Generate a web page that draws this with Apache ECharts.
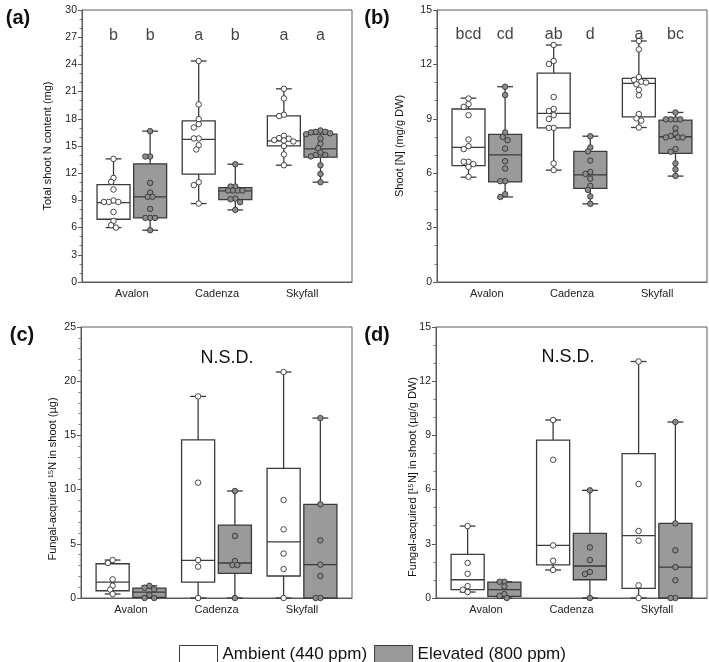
<!DOCTYPE html>
<html><head><meta charset="utf-8">
<script src="https://cdn.jsdelivr.net/npm/echarts@6/dist/echarts.min.js"></script>
<style>html,body{margin:0;padding:0;background:#fff}#c{width:709px;height:662px}</style>
</head><body><div id="c"></div>
<script>
const categories = ['Avalon', 'Cadenza', 'Skyfall'];
const seriesNames = ['Ambient (440 ppm)', 'Elevated (800 ppm)'];

// box stats per cultivar: [min, Q1, median, Q3, max]
// (a) Total shoot N content (mg)
const aAmbientBox = [[6.0, 6.92, 8.76, 10.75, 13.58], [8.65, 11.89, 15.72, 17.78, 24.37], [12.88, 15.02, 15.57, 18.33, 21.31]];
const aElevatedBox = [[5.71, 7.07, 9.39, 13.03, 16.64], [7.95, 9.09, 10.05, 10.42, 12.99], [11.01, 13.77, 14.69, 16.31, 16.72]];
const aAmbientPts = [
  [13.58, 11.48, 11.04, 10.2, 8.99, 8.83, 8.83, 8.83, 7.73, 6.74, 6.26, 6.0],
  [24.37, 19.59, 17.96, 17.41, 17.04, 15.83, 15.83, 15.09, 14.62, 11.01, 10.68, 8.65],
  [21.31, 20.25, 18.44, 18.3, 16.12, 15.87, 15.8, 15.65, 15.6, 15.5, 15.0, 14.07, 12.88]];
const aElevatedPts = [
  [16.64, 13.84, 13.84, 10.93, 9.87, 9.39, 9.39, 8.06, 7.07, 7.07, 7.07, 5.71],
  [12.99, 10.53, 10.53, 10.09, 10.09, 10.09, 10.09, 9.2, 9.13, 8.8, 7.95],
  [16.72, 16.56, 16.56, 16.5, 16.4, 16.3, 15.83, 15.24, 14.76, 14.28, 14.02, 14.02, 13.85, 12.88, 11.92, 11.01]];
const aLetters = ['b', 'b', 'a', 'b', 'a', 'a'];

// (b) Shoot [N] (mg/g DW)
const bAmbientBox = [[5.78, 6.42, 7.42, 9.54, 10.14], [6.17, 8.5, 9.3, 11.52, 13.07], [8.52, 9.11, 10.95, 11.23, 13.29]];
const bElevatedBox = [[4.69, 5.52, 7.01, 8.14, 10.77], [4.31, 5.16, 5.91, 7.2, 8.04], [5.84, 7.09, 8.01, 8.93, 9.35]];
const bAmbientPts = [
  [10.12, 9.81, 9.66, 9.2, 7.86, 7.49, 7.33, 6.63, 6.63, 6.5, 6.35, 5.8],
  [13.07, 12.19, 12.02, 10.2, 9.54, 9.43, 9.2, 8.99, 8.5, 8.5, 6.54, 6.17],
  [13.29, 12.83, 11.3, 11.15, 11.05, 11.0, 10.9, 10.6, 10.3, 9.26, 9.02, 8.9, 8.52]];
const bElevatedPts = [
  [10.77, 10.31, 8.25, 8.0, 7.82, 7.36, 6.66, 6.26, 5.56, 5.56, 4.84, 4.69],
  [8.04, 7.42, 7.2, 6.7, 6.07, 5.96, 5.7, 5.3, 5.08, 4.72, 4.31],
  [9.35, 8.97, 8.97, 8.97, 8.97, 8.47, 8.19, 8.05, 7.97, 7.97, 7.97, 7.33, 7.18, 6.54, 6.21, 5.85]];
const bLetters = ['bcd', 'cd', 'ab', 'd', 'a', 'bc'];

// (c) Fungal-acquired 15N in shoot (µg)
const cAmbientBox = [[0.37, 0.67, 1.47, 3.16, 3.5], [0, 1.47, 3.47, 14.58, 18.6], [0, 2.03, 5.17, 11.96, 20.85]];
const cElevatedBox = [[0, 0.05, 0.55, 0.92, 1.13], [0, 2.27, 3.23, 6.73, 9.87], [0, 0, 3.07, 8.64, 16.6]];
const cAmbientPts = [[3.5, 3.23, 1.72, 1.13, 0.77, 0.37], [18.6, 10.64, 3.5, 2.89, 0], [20.85, 9.04, 6.33, 4.09, 2.67, 0]];
const cElevatedPts = [[1.13, 0.95, 0.8, 0.27, 0, 0], [9.87, 5.72, 3.41, 3.04, 3.04, 0], [16.6, 8.64, 5.32, 3.07, 2.03, 0, 0]];

// (d) Fungal-acquired [15N] in shoot (µg/g DW)
const dAmbientBox = [[0.33, 0.46, 1.01, 2.41, 3.98], [1.55, 1.83, 2.91, 8.74, 9.85], [0, 0.53, 3.45, 7.99, 13.09]];
const dElevatedBox = [[0, 0.09, 0.46, 0.88, 0.9], [0, 1.01, 1.77, 3.58, 5.96], [0, 0, 1.71, 4.13, 9.74]];
const dAmbientPts = [[3.98, 1.94, 1.34, 0.66, 0.46, 0.33], [9.85, 7.65, 2.91, 2.06, 1.55], [13.09, 6.31, 3.71, 3.17, 0.7, 0]];
const dElevatedPts = [[0.9, 0.9, 0.64, 0.22, 0.12, 0], [5.96, 2.8, 2.1, 1.44, 1.33, 0], [9.74, 4.13, 2.64, 1.71, 0.98, 0, 0]];

const yTicksA = {max: 30, interval: 3, minor: 3};
const yTicksB = {max: 15, interval: 3, minor: 3};
const yTicksC = {max: 25, interval: 5, minor: 5};
const yTicksD = {max: 15, interval: 3, minor: 3};

// ---------- styling / layout ----------
const FONT = "'Liberation Sans', Arial, Helvetica, sans-serif";
const X_MIN = -0.585, X_MAX = 2.585;
const GROUP_OFF = 0.215, BOX_W = 0.387, CAP_W = 0.185;
const LINE = '#3a3a3a';
const FILLS = ['#ffffff', '#9a9a9a'];
const PT_FILLS = ['#ffffff', '#8c8c8c'];

const panels = [
  {grid: {left: 82, top: 10, width: 270, height: 272}, y: yTicksA, boxes: [aAmbientBox, aElevatedBox], pts: [aAmbientPts, aElevatedPts], letters: aLetters, letterY: 27.2},
  {grid: {left: 437, top: 10, width: 270, height: 272}, y: yTicksB, boxes: [bAmbientBox, bElevatedBox], pts: [bAmbientPts, bElevatedPts], letters: bLetters, letterY: 13.62},
  {grid: {left: 81, top: 327, width: 271, height: 271}, y: yTicksC, boxes: [cAmbientBox, cElevatedBox], pts: [cAmbientPts, cElevatedPts]},
  {grid: {left: 436, top: 327, width: 271, height: 271}, y: yTicksD, boxes: [dAmbientBox, dElevatedBox], pts: [dAmbientPts, dElevatedPts]}
];

function swarmOffsets(values, pxPerY, d) {
  const placed = [];
  const idx = values.map((_, i) => i).sort((a, b) => values[b] - values[a]);
  const res = new Array(values.length).fill(0);
  const steps = [0];
  for (let k = 1; k <= 14; k++) steps.push(-k * d / 2, k * d / 2);
  idx.forEach(i => {
    const y = values[i] * pxPerY;
    for (const dx of steps) {
      if (placed.every(p => Math.hypot(p.x - dx, p.y - y) >= d * 0.95)) {
        res[i] = dx; placed.push({x: dx, y}); break;
      }
    }
  });
  return res;
}

function boxRenderer(offset, fill) {
  return function (params, api) {
    const x = api.value(0) + offset;
    const p = [1, 2, 3, 4, 5].map(k => api.coord([x, api.value(k)]));
    const cx = p[0][0];
    const hw = api.size([BOX_W, 0])[0] / 2;
    const ch = api.size([CAP_W, 0])[0] / 2;
    const st = {stroke: LINE, lineWidth: 1.3};
    return {type: 'group', children: [
      {type: 'line', shape: {x1: cx, y1: p[1][1], x2: cx, y2: p[0][1]}, style: st},
      {type: 'line', shape: {x1: cx, y1: p[3][1], x2: cx, y2: p[4][1]}, style: st},
      {type: 'line', shape: {x1: cx - ch, y1: p[0][1], x2: cx + ch, y2: p[0][1]}, style: st},
      {type: 'line', shape: {x1: cx - ch, y1: p[4][1], x2: cx + ch, y2: p[4][1]}, style: st},
      {type: 'rect', shape: {x: cx - hw, y: p[3][1], width: 2 * hw, height: p[1][1] - p[3][1]}, style: {fill: fill, stroke: LINE, lineWidth: 1.3}},
      {type: 'line', shape: {x1: cx - hw, y1: p[2][1], x2: cx + hw, y2: p[2][1]}, style: st}
    ]};
  };
}

const grid = [], xAxis = [], yAxis = [], series = [];
panels.forEach((pn, gi) => {
  grid.push(Object.assign({show: true, borderColor: '#5a5a5a', borderWidth: 1, backgroundColor: 'transparent'}, pn.grid));
  xAxis.push({
    type: 'value', gridIndex: gi, min: X_MIN, max: X_MAX,
    axisLine: {show: true, onZero: false, lineStyle: {color: '#5a5a5a', width: 1}},
    axisTick: {show: false}, splitLine: {show: false},
    axisLabel: {customValues: [0, 1, 2], formatter: v => categories[Math.round(v)] || '', fontSize: 11, color: '#222', fontFamily: FONT, margin: 6}
  });
  yAxis.push({
    type: 'value', gridIndex: gi, min: 0, max: pn.y.max, interval: pn.y.interval,
    axisLine: {show: true, onZero: false, lineStyle: {color: '#5a5a5a', width: 1}},
    axisTick: {show: true, length: 4, lineStyle: {color: '#5a5a5a'}},
    minorTick: {show: true, splitNumber: pn.y.minor, length: 2.5, lineStyle: {color: '#777'}},
    splitLine: {show: false}, minorSplitLine: {show: false},
    axisLabel: {fontSize: 10.5, color: '#222', fontFamily: FONT, margin: 5}
  });
  const pxPerY = pn.grid.height / pn.y.max;
  const unitPerPx = (X_MAX - X_MIN) / pn.grid.width;
  [0, 1].forEach(s => {
    const off = s === 0 ? -GROUP_OFF : GROUP_OFF;
    series.push({
      type: 'custom', name: seriesNames[s], xAxisIndex: gi, yAxisIndex: gi, z: 2,
      itemStyle: {color: FILLS[s], borderColor: LINE, borderWidth: 1},
      renderItem: boxRenderer(off, FILLS[s]),
      encode: {x: 0, y: [1, 2, 3, 4, 5]},
      data: pn.boxes[s].map((b, i) => [i].concat(b))
    });
    const ptData = [];
    pn.pts[s].forEach((vals, i) => {
      const dx = swarmOffsets(vals, pxPerY, 4.8);
      vals.forEach((v, k) => ptData.push([i + off + dx[k] * unitPerPx, v]));
    });
    series.push({
      type: 'scatter', name: seriesNames[s] + ' points', xAxisIndex: gi, yAxisIndex: gi, z: 3,
      symbol: 'circle', symbolSize: 5.5,
      itemStyle: {color: PT_FILLS[s], borderColor: '#333', borderWidth: 0.9, opacity: 1},
      emphasis: {disabled: true}, silent: true,
      data: ptData
    });
  });
  if (pn.letters) {
    series.push({
      type: 'scatter', name: 'letters' + gi, xAxisIndex: gi, yAxisIndex: gi, z: 4, silent: true,
      symbolSize: 1, itemStyle: {color: 'rgba(0,0,0,0)'},
      label: {show: true, position: 'inside', formatter: '{b}', fontSize: 16, color: '#111', fontFamily: FONT},
      data: pn.letters.map((t, j) => ({name: t, value: [Math.floor(j / 2) + (j % 2 === 0 ? -GROUP_OFF : GROUP_OFF), pn.letterY]}))
    });
  }
});

function txt(x, y, text, size, opts) {
  return Object.assign({type: 'text', x: x, y: y, silent: true,
    style: {text: text, fontSize: size, fontFamily: FONT, fill: '#111', align: 'center', verticalAlign: 'middle', fontWeight: (opts && opts.bold) ? 'bold' : 'normal'}},
    (opts && opts.rot) ? {rotation: Math.PI / 2} : {});
}

const graphic = [
  txt(18, 18, '(a)', 20, {bold: true}),
  txt(377, 18, '(b)', 20, {bold: true}),
  txt(22, 335, '(c)', 20, {bold: true}),
  txt(377, 335, '(d)', 20, {bold: true}),
  txt(48, 146, 'Total shoot N content (mg)', 11, {rot: true}),
  txt(400, 146, 'Shoot [N] (mg/g DW)', 11, {rot: true}),
  txt(53, 479, 'Fungal-acquired \u00b9\u2075N in shoot (\u00b5g)', 11, {rot: true}),
  txt(413, 477, 'Fungal-acquired [\u00b9\u2075N] in shoot (\u00b5g/g DW)', 11, {rot: true}),
  txt(227, 358, 'N.S.D.', 18),
  txt(568, 357, 'N.S.D.', 18)
];

const chart = echarts.init(document.getElementById('c'), null, {renderer: 'canvas'});
chart.setOption({
  animation: false,
  backgroundColor: '#ffffff',
  textStyle: {fontFamily: FONT},
  grid: grid, xAxis: xAxis, yAxis: yAxis, series: series, graphic: graphic,
  legend: {
    left: 174, top: 640, itemWidth: 38, itemHeight: 18, itemGap: 7, icon: 'rect',
    selectedMode: false,
    textStyle: {fontSize: 17, color: '#111', fontFamily: FONT},
    data: [
      {name: seriesNames[0], itemStyle: {color: FILLS[0], borderColor: LINE, borderWidth: 1}},
      {name: seriesNames[1], itemStyle: {color: FILLS[1], borderColor: LINE, borderWidth: 1}}
    ]
  }
});
</script></body></html>
